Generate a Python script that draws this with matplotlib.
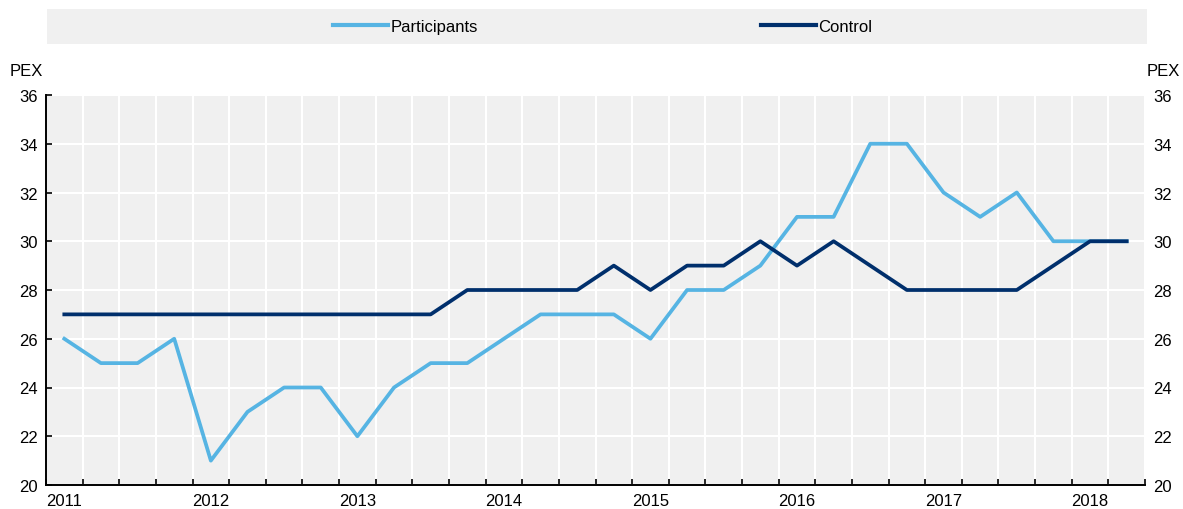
import matplotlib.pyplot as plt
from matplotlib.lines import Line2D
import numpy as np

plt.rcParams['font.family'] = ['Liberation Sans', 'DejaVu Sans']

# quarterly data, 2011 to 2018
years = ['2011', '2012', '2013', '2014', '2015', '2016', '2017', '2018']
participants = [26, 25, 25, 26, 21, 23, 24, 24, 22, 24, 25, 25, 26, 27, 27, 27,
                26, 28, 28, 29, 31, 31, 34, 34, 32, 31, 32, 30, 30, 30]
control = [27, 27, 27, 27, 27, 27, 27, 27, 27, 27, 27, 28, 28, 28, 28, 29,
           28, 29, 29, 30, 29, 30, 29, 28, 28, 28, 28, 29, 30, 30]

light_blue = '#56B4E3'
navy = '#002F6C'
bg = '#F0F0F0'

fig = plt.figure(figsize=(11.83, 5.10), dpi=100)
ax = fig.add_axes([46 / 1183, 1 - 486 / 510, (1145 - 46) / 1183, 390 / 510])
ax.set_facecolor(bg)

x = np.arange(len(participants))
ax.plot(x, participants, color=light_blue, lw=2.7, zorder=3)
ax.plot(x, control, color=navy, lw=2.7, zorder=4)

ax.set_xlim(-0.5, len(x) - 0.5)
ax.set_ylim(20, 36)
ax.set_yticks(range(20, 37, 2))
ax.set_xticks(np.arange(-0.5, len(x), 1))
ax.set_xticklabels([])
ax.set_xticks(np.arange(0, len(x), 4), minor=True)
ax.set_xticklabels(years, minor=True)
ax.tick_params(axis='x', which='minor', length=0, pad=6, labelsize=12)
ax.tick_params(axis='x', which='major', direction='in', length=4, width=1.2)
ax.tick_params(axis='y', direction='in', length=4, width=1.2, labelsize=12,
               labelright=True, right=False, pad=6)
ax.grid(True, which='major', color='white', lw=1.5, zorder=1)
for s in ['top', 'right']:
    ax.spines[s].set_visible(False)
for s in ['left', 'bottom']:
    ax.spines[s].set_linewidth(1.4)
ax.set_axisbelow(True)

fig.text(10 / 1183, 1 - 72 / 510, 'PEX', fontsize=12, va='center', ha='left')
fig.text(1147 / 1183, 1 - 72 / 510, 'PEX', fontsize=12, va='center', ha='left')

# legend band
lax = fig.add_axes([47 / 1183, 1 - 45 / 510, 1100 / 1183, 35 / 510])
lax.set_facecolor(bg)
lax.set_xticks([])
lax.set_yticks([])
for s in lax.spines.values():
    s.set_visible(False)
handles = [Line2D([], [], color=light_blue, lw=3), Line2D([], [], color=navy, lw=3)]
lax.legend(handles, ['Participants', 'Control'], ncol=2, loc='center',
           bbox_to_anchor=(0.505, 0.5), frameon=False, fontsize=12,
           handlelength=3.3, handletextpad=0.15, columnspacing=17)

fig.savefig('out.png', dpi=100)
